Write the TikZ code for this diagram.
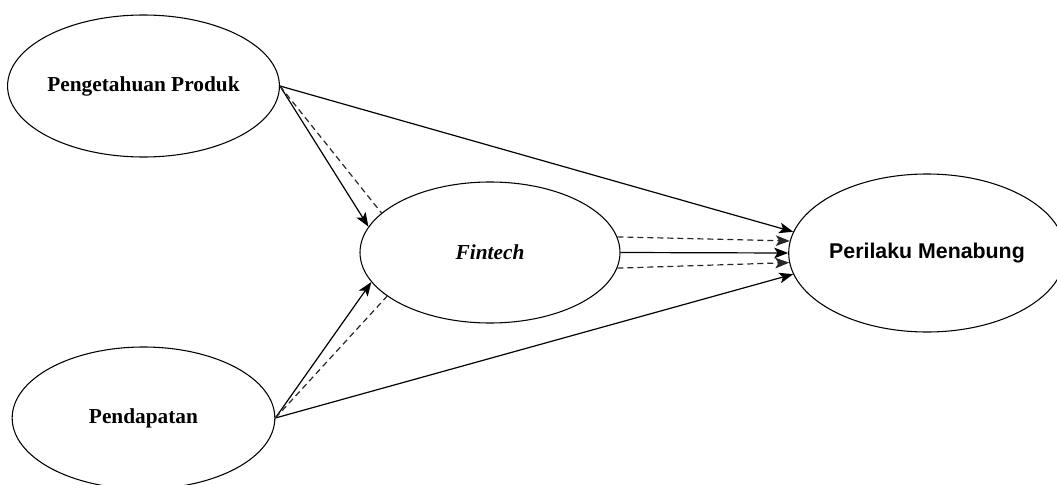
\documentclass[tikz,border=0pt]{standalone}
\usepackage{fontspec}
\setmainfont{Liberation Serif}
\setsansfont{Liberation Sans}
\usepackage{tikz}
\usetikzlibrary{
	shapes.geometric,
	arrows.meta,
	positioning
}

\begin{document}
\begin{tikzpicture}[
    x=0.75pt, y=-0.75pt,
    var_node/.style={
        ellipse,
        draw=black,
        line width=0.8pt,
        minimum width=197pt,
        minimum height=106.5pt,
        inner sep=0pt,
        font=\fontsize{16}{19}\selectfont\bfseries,
        align=center
    },
    direct_edge/.style={
        -{Stealth[length=10.5pt,width=8pt,inset=2.5pt]},
        line width=0.9pt,
        draw=black
    },
    indirect_edge/.style={
        line width=0.9pt,
        draw=black!85,
        dash pattern=on 4.5pt off 3pt
    },
    indirect_arrow/.style={
        indirect_edge,
        -{Stealth[length=10.5pt,width=8pt,inset=2.5pt]}
    }
]
    \useasboundingbox (0,0) rectangle (1057,485);

    % ====== variabel laten ======
    \node[var_node] (produk) at (143.5,86) {Pengetahuan Produk};
    \node[var_node] (pendapatan) at (143.5,418) {Pendapatan};
    \node[var_node, minimum width=195pt, minimum height=105.75pt, font=\fontsize{16}{19}\selectfont\bfseries\itshape] (fintech) at (490,252.5) {Fintech};
    \node[var_node, minimum width=195pt, minimum height=118.5pt, font=\fontsize{16}{19}\selectfont\sffamily\bfseries] (perilaku) at (927,253) {Perilaku Menabung};

    % ====== jalur langsung (garis penuh) ======
    \draw[direct_edge] (produk.east) -- (fintech.168);
    \draw[direct_edge] (pendapatan.east) -- (fintech.194);
    \draw[direct_edge] (produk.east) -- (perilaku.171);
    \draw[direct_edge] (fintech.east) -- (perilaku.west);
    \draw[direct_edge] (pendapatan.east) -- (perilaku.189);

    % ====== jalur tidak langsung (garis putus-putus) ======
    \draw[indirect_edge] (produk.east) -- (fintech.160);
    \draw[indirect_edge] (pendapatan.east) -- (fintech.203);
    \draw[indirect_arrow] (fintech.7) -- (perilaku.175.5);
    \draw[indirect_arrow] (fintech.-7) -- (perilaku.184.5);

\end{tikzpicture}
\end{document}
